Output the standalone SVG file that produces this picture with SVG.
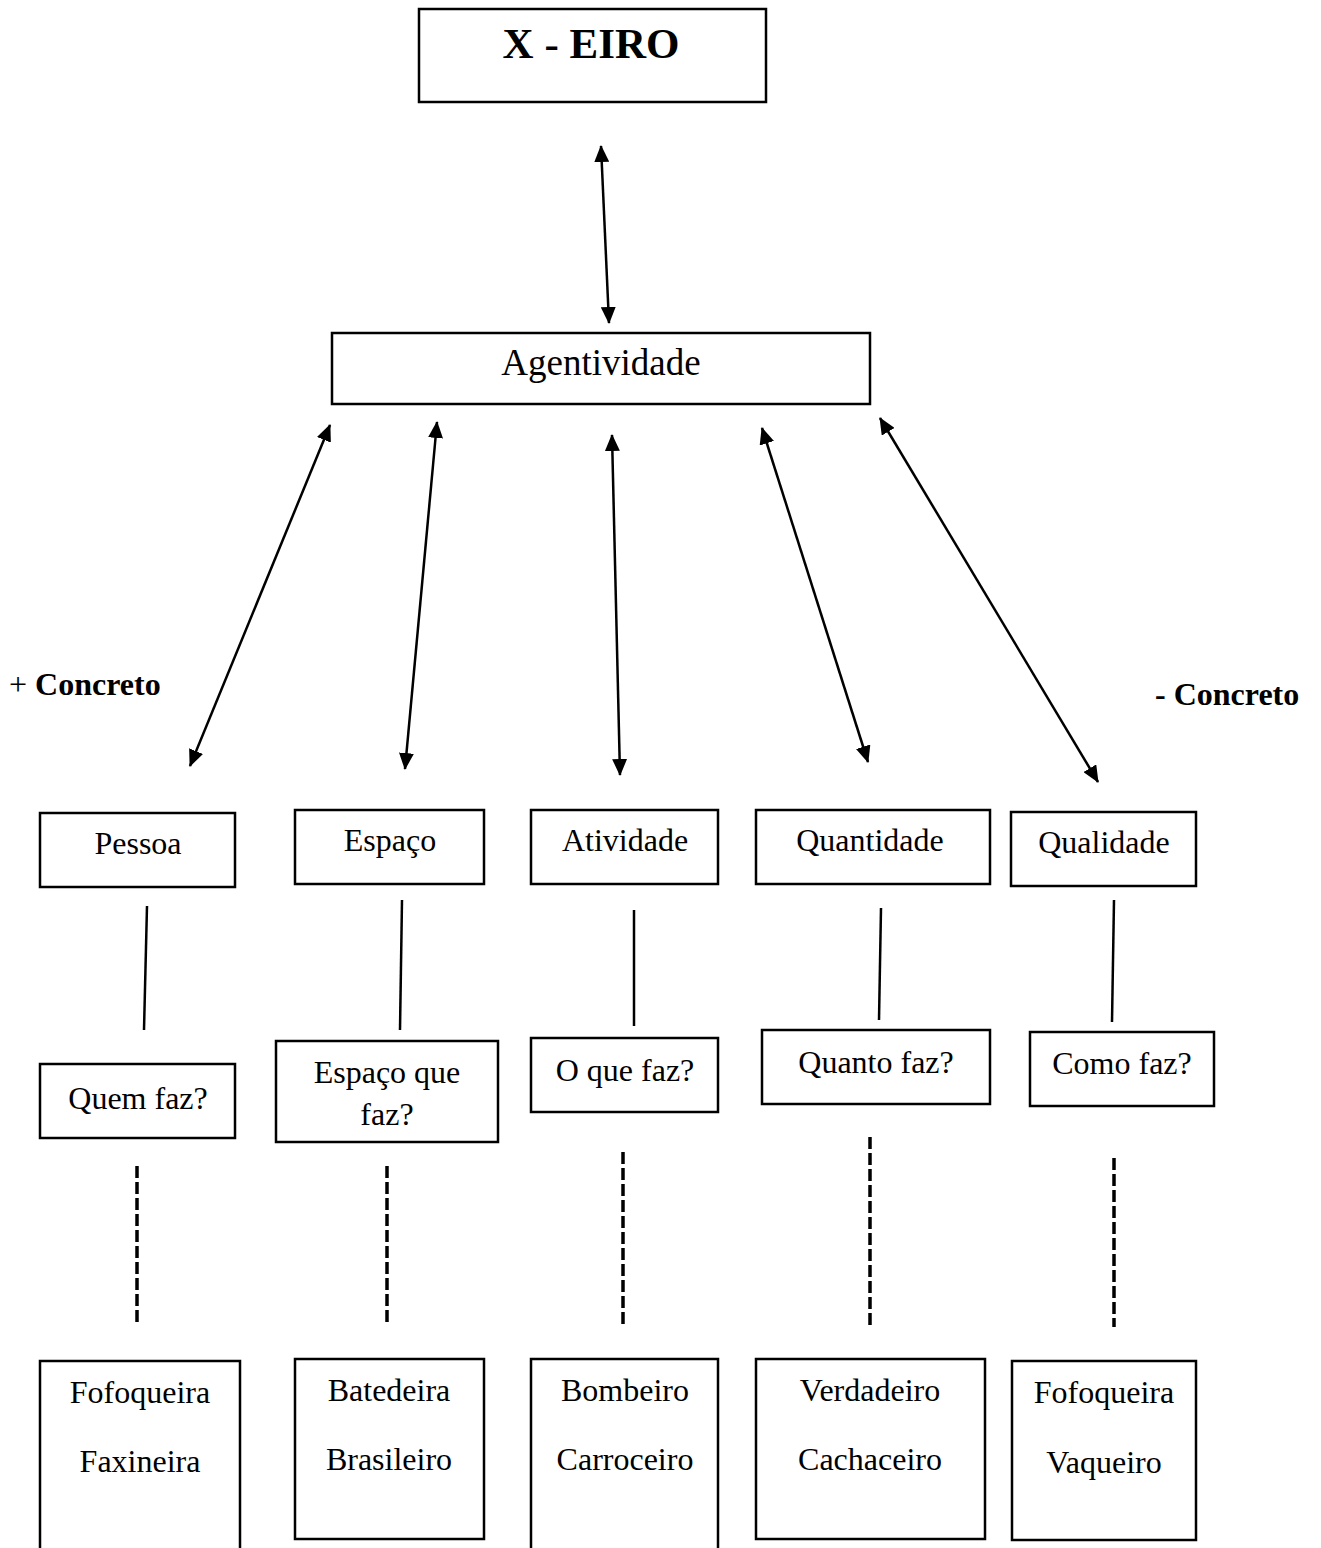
<svg xmlns="http://www.w3.org/2000/svg" width="1321" height="1548" viewBox="0 0 1321 1548">
  <style>
    .box { fill: #fff; stroke: #000; stroke-width: 2.5; }
    .t { font-family: "Liberation Serif", "Times New Roman", serif; fill: #000; text-anchor: middle; }
    .m { font-size: 32px; }
    .lbl { font-family: "Liberation Serif", "Times New Roman", serif; font-size: 32px; fill: #000; }
    .link { stroke: #000; stroke-width: 2.5; fill: none; }
    .arrow { stroke: #000; stroke-width: 2.5; fill: none; marker-start: url(#head); marker-end: url(#head); }
    .dash { stroke: #000; stroke-width: 3.5; fill: none; stroke-dasharray: 12 4; }
  </style>
  <defs>
    <marker id="head" markerUnits="userSpaceOnUse" markerWidth="17" markerHeight="15" refX="16" refY="7.5" orient="auto-start-reverse">
      <path d="M0,0 L17,7.5 L0,15 z" fill="#000"/>
    </marker>
  </defs>
  <rect width="1321" height="1548" fill="#fff"/>

  <!-- root -->
  <g id="node-xeiro">
    <rect class="box" x="419" y="9" width="347" height="93"/>
    <text class="t" x="591" y="58" font-size="43" font-weight="bold">X - EIRO</text>
  </g>

  <g id="node-agentividade">
    <rect class="box" x="332" y="333" width="538" height="71"/>
    <text class="t" x="601" y="375" font-size="37">Agentividade</text>
  </g>

  <!-- scale labels -->
  <g id="label-mais-concreto">
    <text class="lbl" x="9" y="695"><tspan>+ </tspan><tspan font-weight="bold">Concreto</tspan></text>
  </g>
  <g id="label-menos-concreto">
    <text class="lbl" x="1155" y="705" font-weight="bold">- Concreto</text>
  </g>

  <!-- categories -->
  <g id="node-pessoa">
    <rect class="box" x="40" y="813" width="195" height="74"/>
    <text class="t m" x="138" y="854">Pessoa</text>
  </g>
  <g id="node-espaco">
    <rect class="box" x="295" y="810" width="189" height="74"/>
    <text class="t m" x="390" y="851">Espaço</text>
  </g>
  <g id="node-atividade">
    <rect class="box" x="531" y="810" width="187" height="74"/>
    <text class="t m" x="625" y="851">Atividade</text>
  </g>
  <g id="node-quantidade">
    <rect class="box" x="756" y="810" width="234" height="74"/>
    <text class="t m" x="870" y="851">Quantidade</text>
  </g>
  <g id="node-qualidade">
    <rect class="box" x="1011" y="812" width="185" height="74"/>
    <text class="t m" x="1104" y="853">Qualidade</text>
  </g>

  <!-- questions -->
  <g id="node-quem-faz">
    <rect class="box" x="40" y="1064" width="195" height="74"/>
    <text class="t m" x="138" y="1109">Quem faz?</text>
  </g>
  <g id="node-espaco-que-faz">
    <rect class="box" x="276" y="1041" width="222" height="101"/>
    <text class="t m" x="387" y="1083">Espaço que</text>
    <text class="t m" x="387" y="1125">faz?</text>
  </g>
  <g id="node-o-que-faz">
    <rect class="box" x="531" y="1038" width="187" height="74"/>
    <text class="t m" x="625" y="1081">O que faz?</text>
  </g>
  <g id="node-quanto-faz">
    <rect class="box" x="762" y="1030" width="228" height="74"/>
    <text class="t m" x="876" y="1073">Quanto faz?</text>
  </g>
  <g id="node-como-faz">
    <rect class="box" x="1030" y="1032" width="184" height="74"/>
    <text class="t m" x="1122" y="1074">Como faz?</text>
  </g>

  <!-- examples -->
  <g id="node-ex-pessoa">
    <rect class="box" x="40" y="1361" width="200" height="200"/>
    <text class="t m" x="140" y="1403">Fofoqueira</text>
    <text class="t m" x="140" y="1472">Faxineira</text>
  </g>
  <g id="node-ex-espaco">
    <rect class="box" x="295" y="1359" width="189" height="180"/>
    <text class="t m" x="389" y="1401">Batedeira</text>
    <text class="t m" x="389" y="1470">Brasileiro</text>
  </g>
  <g id="node-ex-atividade">
    <rect class="box" x="531" y="1359" width="187" height="200"/>
    <text class="t m" x="625" y="1401">Bombeiro</text>
    <text class="t m" x="625" y="1470">Carroceiro</text>
  </g>
  <g id="node-ex-quantidade">
    <rect class="box" x="756" y="1359" width="229" height="180"/>
    <text class="t m" x="870" y="1401">Verdadeiro</text>
    <text class="t m" x="870" y="1470">Cachaceiro</text>
  </g>
  <g id="node-ex-qualidade">
    <rect class="box" x="1012" y="1361" width="184" height="179"/>
    <text class="t m" x="1104" y="1403">Fofoqueira</text>
    <text class="t m" x="1104" y="1473">Vaqueiro</text>
  </g>

  <!-- connectors -->
  <g id="connectors">
    <line class="arrow" x1="601" y1="146" x2="609" y2="323"/>
    <line class="arrow" x1="330" y1="425" x2="190" y2="766"/>
    <line class="arrow" x1="437" y1="422" x2="405" y2="769"/>
    <line class="arrow" x1="612" y1="435" x2="620" y2="775"/>
    <line class="arrow" x1="762" y1="428" x2="868" y2="762"/>
    <line class="arrow" x1="880" y1="418" x2="1098" y2="782"/>

    <line class="link" x1="147" y1="906" x2="144" y2="1030"/>
    <line class="link" x1="402" y1="900" x2="400" y2="1030"/>
    <line class="link" x1="634" y1="910" x2="634" y2="1026"/>
    <line class="link" x1="881" y1="908" x2="879" y2="1020"/>
    <line class="link" x1="1114" y1="900" x2="1112" y2="1022"/>

    <line class="dash" x1="137" y1="1166" x2="137" y2="1323"/>
    <line class="dash" x1="387" y1="1166" x2="387" y2="1323"/>
    <line class="dash" x1="623" y1="1152" x2="623" y2="1325"/>
    <line class="dash" x1="870" y1="1137" x2="870" y2="1325"/>
    <line class="dash" x1="1114" y1="1158" x2="1114" y2="1327"/>
  </g>
</svg>
